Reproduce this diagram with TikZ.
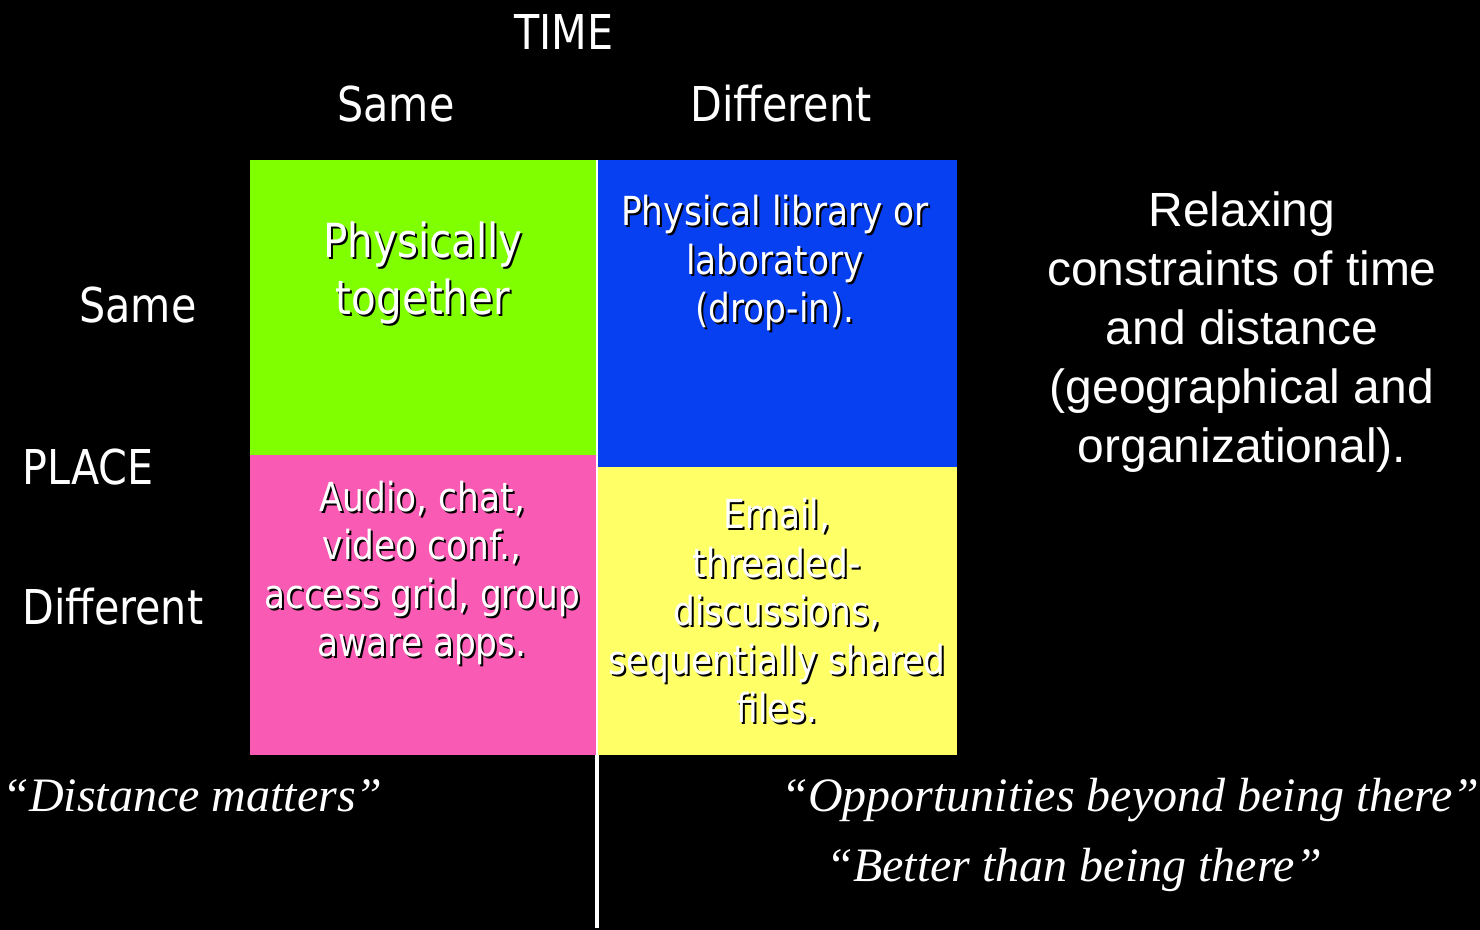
\documentclass[tikz,border=0pt]{standalone}
\usepackage{fontspec}
\newfontfamily\tahfont[FakeStretch=0.86]{DejaVu Sans}
\newfontfamily\arifont{Liberation Sans}
\newfontfamily\timfont{Liberation Serif}
\definecolor{qgreen}{RGB}{128,255,0}
\definecolor{qblue}{RGB}{6,64,240}
\definecolor{qpink}{RGB}{248,90,180}
\definecolor{qyellow}{RGB}{255,255,102}
\newcommand{\shd}[4]{%
  \node[qtxt,#3,text=black,xshift=1pt,yshift=-1pt] at #2 {#4};
  \node[qtxt,#3,text=white] (#1) at #2 {#4};
}
\begin{document}
\begin{tikzpicture}[x=0.5pt,y=-0.5pt,
  lbl/.style={text=white,inner sep=0pt,anchor=base,font=\tahfont\fontsize{24}{29}\selectfont},
  qtxt/.style={inner sep=0pt,anchor=base,align=center},
  qsmall/.style={font=\tahfont\fontsize{20}{24.25}\selectfont},
  qbig/.style={font=\tahfont\fontsize{23.5}{28.5}\selectfont},
  side/.style={text=white,inner sep=0pt,anchor=base,align=center,font=\arifont\fontsize{24}{29.5}\selectfont},
  quote/.style={text=white,inner sep=0pt,anchor=base west,font=\timfont\itshape\fontsize{24}{28}\selectfont},
  sep/.style={draw=white,line width=1pt}]
\fill[black] (0,0) rectangle (1480,930);
\useasboundingbox (0,0) rectangle (1480,930);
% quadrants
\fill[qgreen]  (250,160) rectangle (596,455);
\fill[qpink]   (250,455) rectangle (596,755);
\fill[qblue]   (598,160) rectangle (957,467);
\fill[qyellow] (598,467) rectangle (957,755);
\coordinate (sepTop) at (597,160);
\coordinate (sepMid) at (597,755);
\coordinate (sepBot) at (597,928);
\draw[sep] (sepTop) -- (sepMid);
\draw[draw=white,line width=2pt] (sepMid) -- (sepBot);
% headers
\node[lbl] (time) at (564,50) {TIME};
\node[lbl] (tsame) at (396,122) {Same};
\node[lbl] (tdiff) at (781,122) {Different};
\node[lbl] (psame) at (138,323) {Same};
\node[lbl,anchor=base west] (place) at (22,485) {PLACE};
\node[lbl,anchor=base west] (pdiff) at (22,625) {Different};
% quadrant texts (anchor = baseline of last line)
\shd{qa}{(423,315)}{qbig}{Physically\\together}
\shd{qb}{(775,323)}{qsmall}{Physical library or\\laboratory\\(drop-in).}
\shd{qc}{(422,657)}{qsmall}{Audio, chat,\\video conf.,\\access grid, group\\aware apps.}
\shd{qd}{(777,723)}{qsmall}{Email,\\threaded-\\discussions,\\sequentially shared\\files.}
% side text
\node[side] (relax) at (1242,463) {Relaxing\\constraints of time\\and distance\\(geographical and\\organizational).};
% quotes
\node[quote] (q1) at (2,812) {“Distance matters”};
\node[quote] (q2) at (781,812) {“Opportunities beyond being there”};
\node[quote] (q3) at (826,882) {“Better than being there”};
\end{tikzpicture}
\end{document}
